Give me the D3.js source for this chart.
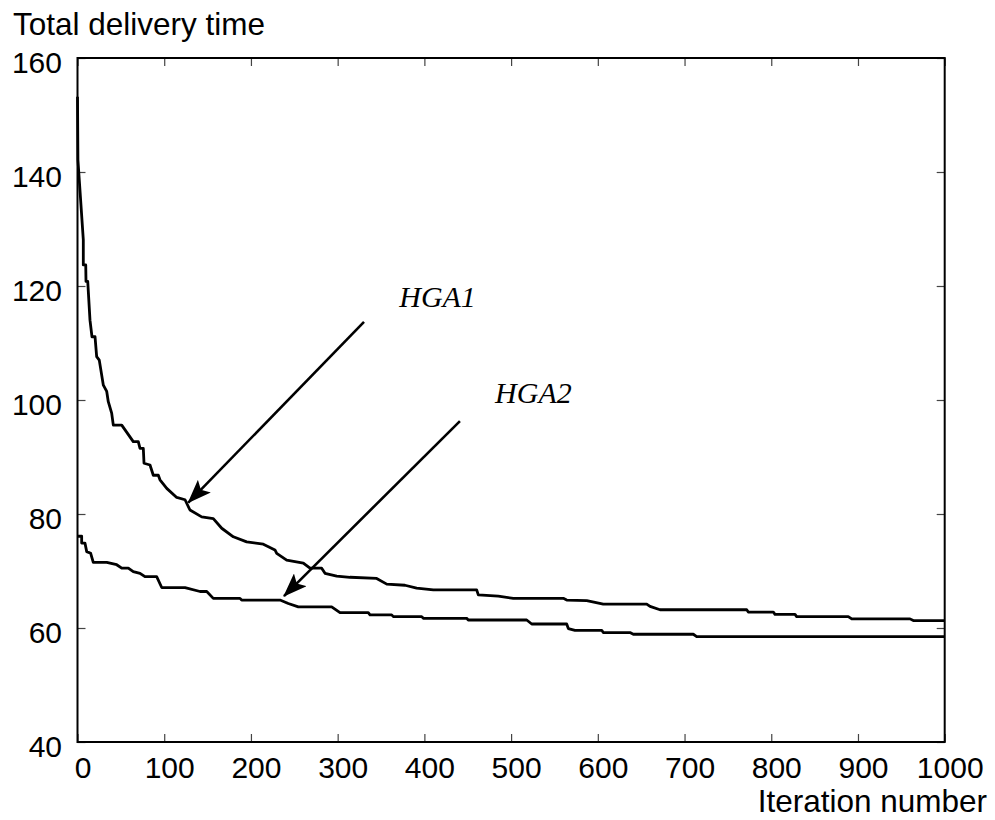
<!DOCTYPE html>
<html>
<head>
<meta charset="utf-8">
<script src="https://cdn.jsdelivr.net/npm/d3@7"></script>
<style>
  html, body { margin: 0; padding: 0; background: #fff; }
  svg { display: block; }
</style>
</head>
<body>
<svg id="chart" width="995" height="820"></svg>
<script>
// ---- data ----
const hga1Iter = [0, 0.5, 6.7, 6.7, 9.5, 9.8, 11.8, 14.4, 16.7, 20.2, 22.1, 25.1, 29.8, 33.7, 35.5, 39.4, 41.3, 51.0, 64.3, 70.1, 72.1, 75.9, 76.7, 83.6, 87.4, 93.2, 95.1, 102.9, 114.4, 124.0, 129.7, 143.2, 156.6, 166.3, 179.7, 195.1, 214.3, 227.7, 229.7, 241.2, 260.4, 268.1, 281.6, 285.4, 298.9, 314.2, 345.0, 356.6, 377.6, 391.1, 410.3, 460.3, 462.2, 485.2, 502.5, 560.2, 564.1, 587.2, 606.3, 656.4, 660.2, 671.7, 771.7, 773.5, 802.4, 804.3, 827.4, 829.3, 888.8, 892.8, 960, 963.8, 1000];
const hga1Val  = [153.2, 142.1, 128.1, 123.7, 123.7, 120.8, 120.8, 114.0, 111.1, 111.1, 107.6, 107.0, 102.6, 101.5, 99.7, 97.7, 95.6, 95.6, 92.7, 92.7, 91.5, 91.5, 88.9, 88.6, 86.8, 86.8, 86.0, 84.5, 82.9, 82.5, 80.7, 79.5, 79.2, 77.5, 76.0, 75.1, 74.7, 73.7, 73.1, 71.9, 71.4, 70.5, 70.5, 69.6, 69.1, 68.9, 68.7, 67.7, 67.5, 67.0, 66.7, 66.7, 65.8, 65.6, 65.2, 65.2, 64.9, 64.8, 64.2, 64.2, 63.8, 63.2, 63.2, 62.8, 62.8, 62.4, 62.4, 62.0, 62.0, 61.6, 61.6, 61.3, 61.3];

const hga2Iter = [0, 4.8, 4.8, 8.6, 10.6, 15.2, 18.2, 33.7, 45.2, 51.0, 58.6, 64.3, 72.1, 77.8, 91.3, 97.1, 124.0, 141.3, 149.0, 156.6, 187.4, 189.3, 233.5, 243.1, 254.6, 293.1, 302.7, 335.3, 337.3, 362.3, 364.2, 396.9, 398.8, 448.8, 450.6, 518.0, 523.8, 564.1, 566.0, 573.7, 604.5, 606.3, 637.1, 640.9, 710.1, 714.0, 1000];
const hga2Val  = [76.1, 76.1, 74.9, 74.9, 73.4, 73.1, 71.5, 71.5, 71.1, 70.5, 70.5, 69.9, 69.6, 69.0, 69.0, 67.1, 67.1, 66.4, 66.4, 65.2, 65.2, 64.9, 64.9, 64.3, 63.7, 63.7, 62.7, 62.7, 62.3, 62.3, 62.0, 62.0, 61.7, 61.7, 61.4, 61.4, 60.7, 60.7, 59.9, 59.6, 59.6, 59.2, 59.2, 58.9, 58.9, 58.5, 58.5];

const xTicks = [0, 100, 200, 300, 400, 500, 600, 700, 800, 900, 1000];
const yTicks = [40, 60, 80, 100, 120, 140, 160];

const labelNames = ["HGA1", "HGA2"];
const labelPos = [[371, 116.4], [481.5, 99.4]];          // [iteration, value] of label baseline start
const arrowFrom = [[330.4, 113.7], [441.0, 96.3]];
const arrowTo   = [[127.8, 82.0], [238.1, 65.6]];

const yTitle = "Total delivery time";
const xTitle = "Iteration number";

// ---- drawing ----
const svg = d3.select("#chart");
const L = 77.5, R = 944.7, T = 58, B = 742;
const x = d3.scaleLinear().domain([0, 1000]).range([L, R]);
const y = d3.scaleLinear().domain([40, 160]).range([B, T]);
const font = "'Liberation Sans', Arial, Helvetica, sans-serif";

// ticks
const tickColor = "#444";
const gB = svg.append("g").attr("transform", `translate(0,${B})`)
  .call(d3.axisBottom(x).tickValues(xTicks).tickFormat(d3.format("d")).tickSize(-8).tickPadding(14.5));
const gT = svg.append("g").attr("transform", `translate(0,${T})`)
  .call(d3.axisTop(x).tickValues(xTicks).tickSize(-8).tickFormat(""));
const gL = svg.append("g").attr("transform", `translate(${L},0)`)
  .call(d3.axisLeft(y).tickValues(yTicks).tickFormat(d3.format("d")).tickSize(-8).tickPadding(15.5));
const gR = svg.append("g").attr("transform", `translate(${R},0)`)
  .call(d3.axisRight(y).tickValues(yTicks).tickSize(-8).tickFormat(""));

[gB, gT, gL, gR].forEach(g => {
  g.select(".domain").remove();
  g.selectAll(".tick line").attr("stroke", tickColor).attr("stroke-width", 1.2);
  g.selectAll("text").attr("font-family", font).attr("font-size", 30).attr("fill", "#000");
});
gB.selectAll("text").attr("dx", 5);
gL.selectAll("text").attr("dy", "0.47em");

// frame
svg.append("rect")
  .attr("x", L).attr("y", T).attr("width", R - L).attr("height", B - T)
  .attr("fill", "none").attr("stroke", "#000").attr("stroke-width", 2);

// lines
const line = d3.line().x(d => x(d[0])).y(d => y(d[1]));
const s1 = hga1Iter.map((v, i) => [v, hga1Val[i]]);
const s2 = hga2Iter.map((v, i) => [v, hga2Val[i]]);
[s1, s2].forEach(s => {
  svg.append("path").datum(s).attr("d", line)
    .attr("fill", "none").attr("stroke", "#000").attr("stroke-width", 2.8)
    .attr("stroke-linejoin", "round");
});

// arrows
const defs = svg.append("defs");
defs.append("marker").attr("id", "ah")
  .attr("viewBox", "0 0 24 18").attr("refX", 23).attr("refY", 9)
  .attr("markerWidth", 24).attr("markerHeight", 18)
  .attr("markerUnits", "userSpaceOnUse").attr("orient", "auto")
  .append("path").attr("d", "M0,0 L24,9 L0,18 L5,9 Z").attr("fill", "#000");

arrowFrom.forEach((f, i) => {
  const t = arrowTo[i];
  svg.append("line")
    .attr("x1", x(f[0])).attr("y1", y(f[1]))
    .attr("x2", x(t[0])).attr("y2", y(t[1]))
    .attr("stroke", "#000").attr("stroke-width", 2.6)
    .attr("marker-end", "url(#ah)");
});

// annotation labels
labelNames.forEach((n, i) => {
  svg.append("text").attr("x", x(labelPos[i][0])).attr("y", y(labelPos[i][1]))
    .attr("font-family", "'Liberation Serif', 'Times New Roman', serif")
    .attr("font-style", "italic").attr("font-size", 30).text(n);
});

// titles
svg.append("text").attr("x", 13).attr("y", 35)
  .attr("font-family", font).attr("font-size", 31.5).text(yTitle);
svg.append("text").attr("x", 987).attr("y", 812).attr("text-anchor", "end")
  .attr("font-family", font).attr("font-size", 31.5).text(xTitle);
</script>
</body>
</html>
